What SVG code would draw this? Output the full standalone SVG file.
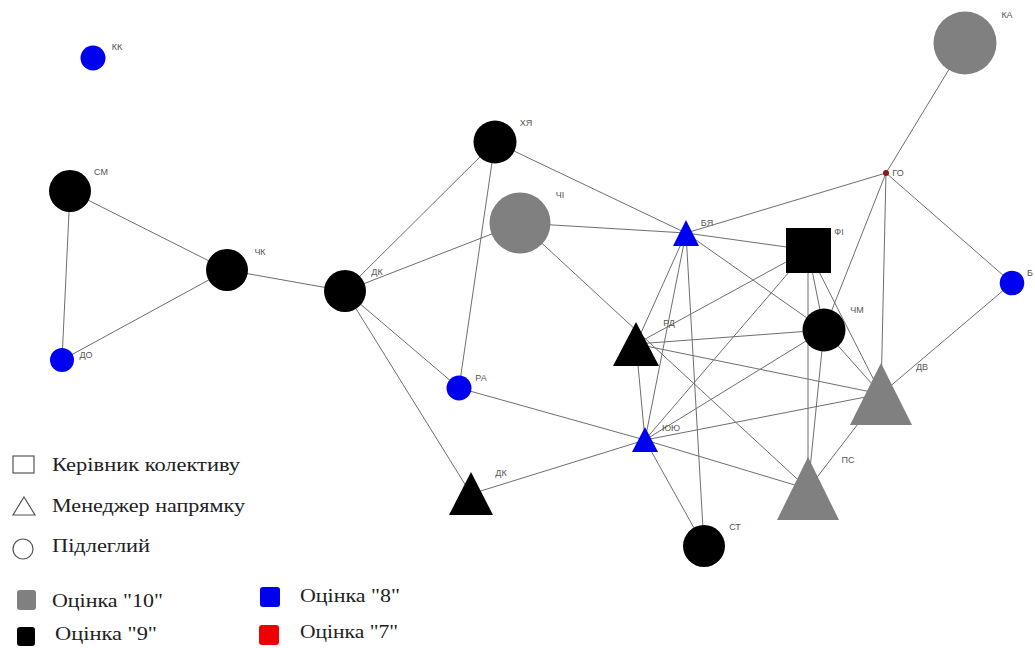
<svg xmlns="http://www.w3.org/2000/svg" width="1035" height="648" viewBox="0 0 1035 648">
  <style>
    .edge { stroke: #6e6e6e; stroke-width: 1; fill: none; }
    .g10 { fill: #808080; }
    .g9 { fill: #000000; }
    .g8 { fill: #0000f0; }
    .g7 { fill: #8b1a1a; }
    .lbl { font-family: "Liberation Sans", Arial, sans-serif; font-size: 9px; fill: #555555; text-anchor: middle; }
    .leg { font-family: "Liberation Serif", "Times New Roman", serif; font-size: 18px; fill: #222222; }
    .legshape { fill: none; stroke: #555555; stroke-width: 1.2; }
  </style>
  <rect width="1035" height="648" fill="#ffffff"/>

  <!-- connectors between team members -->
  <g id="edges" class="edge">
    <line x1="70" y1="191" x2="62" y2="360"/>
    <line x1="70" y1="191" x2="227" y2="270"/>
    <line x1="62" y1="360" x2="227" y2="270"/>
    <line x1="227" y1="270" x2="345" y2="291"/>
    <line x1="345" y1="291" x2="495" y2="142"/>
    <line x1="345" y1="291" x2="520" y2="223"/>
    <line x1="345" y1="291" x2="459" y2="388"/>
    <line x1="345" y1="291" x2="471" y2="494"/>
    <line x1="495" y1="142" x2="459" y2="388"/>
    <line x1="495" y1="142" x2="686" y2="233"/>
    <line x1="520" y1="223" x2="686" y2="233"/>
    <line x1="520" y1="223" x2="808" y2="489"/>
    <line x1="459" y1="388" x2="645" y2="440"/>
    <line x1="471" y1="494" x2="645" y2="440"/>
    <line x1="645" y1="440" x2="704" y2="546"/>
    <line x1="645" y1="440" x2="686" y2="233"/>
    <line x1="686" y1="233" x2="636" y2="344"/>
    <line x1="686" y1="233" x2="808" y2="250"/>
    <line x1="686" y1="233" x2="824" y2="330"/>
    <line x1="686" y1="233" x2="886" y2="173"/>
    <line x1="686" y1="233" x2="704" y2="546"/>
    <line x1="886" y1="173" x2="965" y2="43"/>
    <line x1="886" y1="173" x2="1012" y2="283"/>
    <line x1="886" y1="173" x2="824" y2="330"/>
    <line x1="886" y1="173" x2="881" y2="394"/>
    <line x1="1012" y1="283" x2="881" y2="394"/>
    <line x1="881" y1="394" x2="808" y2="489"/>
    <line x1="808" y1="250" x2="636" y2="344"/>
    <line x1="808" y1="250" x2="645" y2="440"/>
    <line x1="808" y1="250" x2="824" y2="330"/>
    <line x1="808" y1="250" x2="881" y2="394"/>
    <line x1="808" y1="250" x2="808" y2="489"/>
    <line x1="824" y1="330" x2="636" y2="344"/>
    <line x1="824" y1="330" x2="645" y2="440"/>
    <line x1="824" y1="330" x2="808" y2="489"/>
    <line x1="824" y1="330" x2="881" y2="394"/>
    <line x1="636" y1="344" x2="881" y2="394"/>
    <line x1="636" y1="344" x2="645" y2="440"/>
    <line x1="645" y1="440" x2="881" y2="394"/>
    <line x1="645" y1="440" x2="808" y2="489"/>
  </g>

  <!-- team members -->
  <g id="node-KK"><circle class="g8" cx="93" cy="58" r="12.5"/><text class="lbl" x="117" y="50">КК</text></g>
  <g id="node-SM"><circle class="g9" cx="70" cy="191" r="21"/><text class="lbl" x="101" y="175">СМ</text></g>
  <g id="node-DO"><circle class="g8" cx="62" cy="360" r="12"/><text class="lbl" x="86" y="358">ДО</text></g>
  <g id="node-ChK"><circle class="g9" cx="227" cy="270" r="21"/><text class="lbl" x="260" y="255">ЧК</text></g>
  <g id="node-DK1"><circle class="g9" cx="345" cy="291" r="21"/><text class="lbl" x="377" y="275">ДК</text></g>
  <g id="node-KhYa"><circle class="g9" cx="495" cy="142" r="21.5"/><text class="lbl" x="526" y="126">ХЯ</text></g>
  <g id="node-ChI"><circle class="g10" cx="520" cy="223" r="30.5"/><text class="lbl" x="560" y="198">ЧІ</text></g>
  <g id="node-RA"><circle class="g8" cx="459" cy="388" r="12.5"/><text class="lbl" x="481" y="381">РА</text></g>
  <g id="node-DK2"><polygon class="g9" points="471,472 493,515 449,515"/><text class="lbl" x="501" y="476">ДК</text></g>
  <g id="node-YuYu"><polygon class="g8" points="645,427 658,452 632,452"/><text class="lbl" x="671" y="431">ЮЮ</text></g>
  <g id="node-BYa"><polygon class="g8" points="686,220 699,246 673,246"/><text class="lbl" x="707" y="226">БЯ</text></g>
  <g id="node-RD"><polygon class="g9" points="636,322 659,366 613,366"/><text class="lbl" x="669" y="326">РД</text></g>
  <g id="node-FI"><rect class="g9" x="786" y="228" width="45" height="45"/><text class="lbl" x="839" y="235">ФІ</text></g>
  <g id="node-ChM"><circle class="g9" cx="824" cy="330" r="21.5"/><text class="lbl" x="857" y="313">ЧМ</text></g>
  <g id="node-HO"><circle class="g7" cx="886" cy="173" r="3"/><text class="lbl" x="898" y="176">ГО</text></g>
  <g id="node-KA"><circle class="g10" cx="965" cy="43" r="31.5"/><text class="lbl" x="1007" y="18">КА</text></g>
  <g id="node-B"><circle class="g8" cx="1012" cy="283" r="12.3"/><text class="lbl" x="1027" y="276" text-anchor="start" style="text-anchor:start">Б</text></g>
  <g id="node-DV"><polygon class="g10" points="881,363 912,425 850,425"/><text class="lbl" x="922" y="370">ДВ</text></g>
  <g id="node-PS"><polygon class="g10" points="808,457 839,520 777,520"/><text class="lbl" x="848" y="463">ПС</text></g>
  <g id="node-ST"><circle class="g9" cx="704" cy="546" r="21"/><text class="lbl" x="735" y="530">СТ</text></g>

  <!-- legend: roles -->
  <g id="legend-roles">
    <rect class="legshape" x="13" y="456" width="21" height="17"/>
    <text class="leg" x="52" y="471" textLength="188" lengthAdjust="spacingAndGlyphs">Керівник колективу</text>
    <polygon class="legshape" points="24,497 35,515 13,515"/>
    <text class="leg" x="52" y="512" textLength="193" lengthAdjust="spacingAndGlyphs">Менеджер напрямку</text>
    <circle class="legshape" cx="23" cy="549" r="10"/>
    <text class="leg" x="52" y="552" textLength="98" lengthAdjust="spacingAndGlyphs">Підлеглий</text>
  </g>

  <!-- legend: scores -->
  <g id="legend-scores">
    <rect class="g10" x="17" y="590" width="19" height="20" rx="3"/>
    <text class="leg" x="52" y="607" textLength="111" lengthAdjust="spacingAndGlyphs">Оцінка &quot;10&quot;</text>
    <rect class="g9" x="17" y="627" width="18" height="19" rx="3"/>
    <text class="leg" x="55" y="640" textLength="102" lengthAdjust="spacingAndGlyphs">Оцінка &quot;9&quot;</text>
    <rect fill="#0000f0" x="260" y="587" width="20" height="20" rx="3"/>
    <text class="leg" x="300" y="602" textLength="100" lengthAdjust="spacingAndGlyphs">Оцінка &quot;8&quot;</text>
    <rect fill="#ee0000" x="259" y="625" width="20" height="20" rx="3"/>
    <text class="leg" x="300" y="638" textLength="98" lengthAdjust="spacingAndGlyphs">Оцінка &quot;7&quot;</text>
  </g>
</svg>
